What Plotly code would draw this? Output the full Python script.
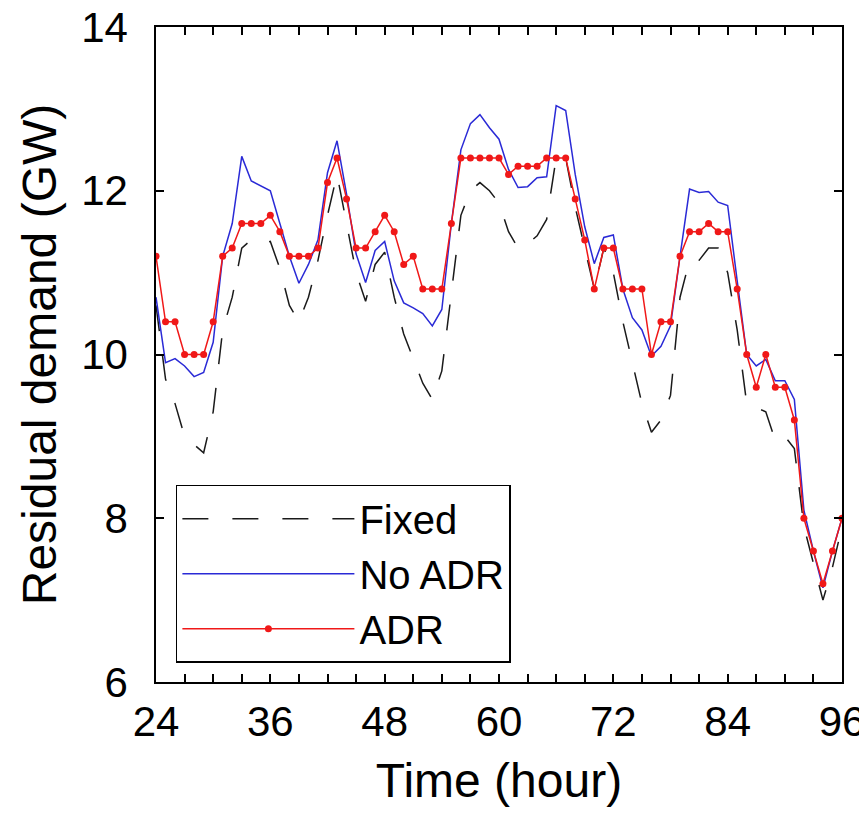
import plotly.graph_objects as go

hours = list(range(24, 97))

fixed = [
    10.6, 9.7, 9.4, 9.0, 8.9, 8.8, 9.3, 10.3, 10.7, 11.3, 11.4, 11.35,
    11.38, 11.05, 10.6, 10.4, 10.7, 11.15, 11.7, 12.2, 11.6, 11.0, 10.65, 11.1,
    11.25, 10.7, 10.25, 9.95, 9.65, 9.45, 9.8, 10.75, 11.7, 12.0, 12.1, 12.0,
    11.85, 11.5, 11.3, 11.35, 11.45, 11.65, 12.4, 12.4, 11.8, 11.3, 10.8, 11.3,
    11.0, 10.4, 9.9, 9.4, 9.05, 9.2, 9.5, 10.7, 11.15, 11.15, 11.3, 11.3,
    11.0, 10.3, 9.4, 9.35, 9.3, 8.95, 9.0, 8.85, 7.9, 7.45, 7.0, 7.4,
    7.9,
]

no_adr = [
    10.7, 9.9, 9.95, 9.86, 9.73, 9.78, 10.15, 11.2, 11.6, 12.42, 12.12, 12.06,
    12.0, 11.6, 11.2, 10.87, 11.1, 11.4, 12.22, 12.61, 11.96, 11.23, 10.88, 11.27,
    11.38, 10.9, 10.63, 10.57, 10.5, 10.35, 10.55, 11.6, 12.5, 12.82, 12.93, 12.77,
    12.63, 12.26, 12.04, 12.05, 12.16, 12.17, 13.04, 12.98, 12.2, 11.56, 11.11, 11.43,
    11.46, 10.8, 10.45, 10.3, 9.98, 10.1, 10.35, 11.2, 12.02, 11.98, 11.99, 11.86,
    11.82, 10.9, 10.0, 9.86, 9.94, 9.68, 9.68, 9.45, 8.1, 7.6, 7.15, 7.6,
    8.0,
]

adr = [
    11.2, 10.4, 10.4, 10.0, 10.0, 10.0, 10.4, 11.2, 11.3, 11.6, 11.6, 11.6,
    11.7, 11.5, 11.2, 11.2, 11.2, 11.3, 12.1, 12.4, 11.9, 11.3, 11.3, 11.5,
    11.7, 11.5, 11.1, 11.2, 10.8, 10.8, 10.8, 11.6, 12.4, 12.4, 12.4, 12.4,
    12.4, 12.2, 12.3, 12.3, 12.3, 12.4, 12.4, 12.4, 11.9, 11.4, 10.8, 11.3,
    11.3, 10.8, 10.8, 10.8, 10.0, 10.4, 10.4, 11.2, 11.5, 11.5, 11.6, 11.5,
    11.5, 10.8, 10.0, 9.6, 10.0, 9.6, 9.6, 9.2, 8.0, 7.6, 7.2, 7.6,
    8.0,
]

x_ticks = [24, 36, 48, 60, 72, 84, 96]
y_ticks = [6, 8, 10, 12, 14]

FONT = "Liberation Sans, Arial, sans-serif"

fig = go.Figure()
fig.add_trace(go.Scatter(
    x=hours, y=fixed, mode="lines", name="Fixed",
    line=dict(color="#1a1a1a", width=1.5, dash="26px,24px"),
))
fig.add_trace(go.Scatter(
    x=hours, y=no_adr, mode="lines", name="No ADR",
    line=dict(color="#2a2ad6", width=1.5),
))
fig.add_trace(go.Scatter(
    x=hours, y=adr, mode="lines+markers", name="ADR",
    line=dict(color="#f01818", width=1.5),
    marker=dict(color="#f01818", size=7),
))

axis_common = dict(
    showgrid=False, zeroline=False, showline=True, linecolor="black",
    linewidth=1.5, mirror="ticks", ticks="inside", ticklen=8,
    tickcolor="black", tickwidth=1.5, automargin=False,
    ticklabeloverflow="allow",
    tickfont=dict(family=FONT, size=42, color="black"),
)

fig.update_xaxes(
    range=[24, 96], tickmode="array", tickvals=x_ticks,
    minor=dict(dtick=3, tick0=24, ticks="inside", ticklen=8,
               tickcolor="black", tickwidth=1.5),
    ticklabelstandoff=2,
    title=dict(text="Time (hour)", font=dict(family=FONT, size=48, color="black"),
               standoff=19),
    **axis_common,
)
fig.update_yaxes(
    range=[6, 14], tickmode="array", tickvals=y_ticks,
    ticklabelstandoff=18,
    title=dict(text="Residual demand (GW)",
               font=dict(family=FONT, size=48, color="black"), standoff=9),
    **axis_common,
)

fig.update_layout(
    width=867, height=820,
    margin=dict(l=148, r=33, t=19, b=146),
    paper_bgcolor="white", plot_bgcolor="white",
    font=dict(family=FONT, color="black"),
    legend=dict(
        x=0.029, y=0.301, xanchor="left", yanchor="top",
        bgcolor="white", bordercolor="black", borderwidth=1.5,
        font=dict(family=FONT, size=40, color="black"),
        itemwidth=172,
    ),
    showlegend=True,
)

fig.write_html("out.html")
